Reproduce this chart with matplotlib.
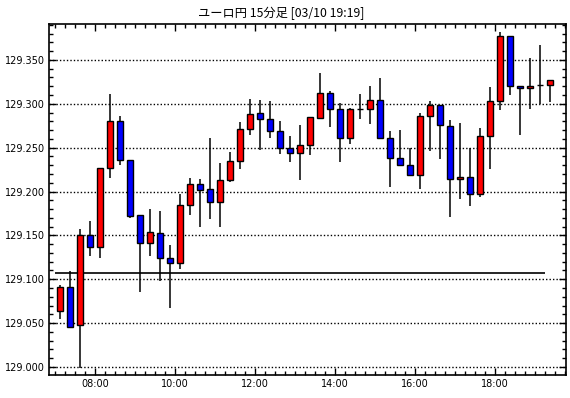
import matplotlib
matplotlib.use('Agg')
import numpy as np
import matplotlib.pyplot as plt
from matplotlib.ticker import MultipleLocator, FixedLocator

plt.rcParams['font.family'] = ['Noto Sans CJK JP', 'DejaVu Sans']

title = 'ユーロ円 15分足 [03/10 19:19]'

# 15分足 07:00 ~ 19:15
opens = [129.0636, 129.0917, 129.0477, 129.1508, 129.1364, 129.2273, 129.2803, 129.2364, 129.1727, 129.1409,
         129.1523, 129.1239, 129.1189, 129.1852, 129.2080, 129.2023, 129.1875, 129.2136, 129.2352, 129.2716,
         129.2898, 129.2830, 129.2693, 129.2500, 129.2443, 129.2534, 129.2837, 129.3125, 129.2943, 129.2614,
         129.2943, 129.2943, 129.3045, 129.2614, 129.2386, 129.2307, 129.2189, 129.2864, 129.2989, 129.2750,
         129.2148, 129.2170, 129.1977, 129.2636, 129.3034, 129.3773, 129.3205, 129.3182, 129.3212, 129.3212]
highs = [129.0932, 129.1091, 129.1568, 129.1663, 129.2273, 129.3106, 129.2856, 129.2364, 129.1727, 129.1799,
         129.1773, 129.1390, 129.1970, 129.2152, 129.2140, 129.2606, 129.2322, 129.2447, 129.2788, 129.3049,
         129.3038, 129.3027, 129.2799, 129.2629, 129.2754, 129.2852, 129.3356, 129.3148, 129.3008, 129.2955,
         129.3106, 129.3197, 129.3288, 129.2686, 129.2697, 129.2500, 129.2898, 129.3027, 129.2989, 129.2818,
         129.2777, 129.2500, 129.2727, 129.3186, 129.3822, 129.3773, 129.3205, 129.3519, 129.3674, 129.3273]
lows = [129.0542, 129.0443, 128.9989, 129.1261, 129.1239, 129.2159, 129.2303, 129.1697, 129.0860, 129.1269,
        129.0985, 129.0678, 129.1117, 129.1735, 129.1598, 129.1689, 129.1598, 129.2110, 129.2258, 129.2644,
        129.2473, 129.2610, 129.2432, 129.2341, 129.2136, 129.2417, 129.2826, 129.2735, 129.2341, 129.2545,
        129.2822, 129.2765, 129.2610, 129.2053, 129.2292, 129.2178, 129.2030, 129.2462, 129.2371, 129.1712,
        129.1917, 129.1837, 129.1939, 129.2258, 129.2928, 129.3098, 129.2644, 129.2936, 129.3000, 129.3015]
closes = [129.0917, 129.0455, 129.1508, 129.1364, 129.2273, 129.2803, 129.2364, 129.1723, 129.1409, 129.1534,
          129.1239, 129.1189, 129.1852, 129.2080, 129.2019, 129.1875, 129.2136, 129.2352, 129.2716, 129.2886,
          129.2830, 129.2693, 129.2500, 129.2443, 129.2534, 129.2852, 129.3125, 129.2943, 129.2614, 129.2943,
          129.2943, 129.3045, 129.2610, 129.2383, 129.2303, 129.2189, 129.2864, 129.2989, 129.2761, 129.2148,
          129.2170, 129.1977, 129.2636, 129.3034, 129.3773, 129.3201, 129.3182, 129.3205, 129.3212, 129.3273]

ref_line = 129.1068
xlabels = ['08:00', '10:00', '12:00', '14:00', '16:00', '18:00']

n = len(opens)
# 足の中心 (時間, 07:00 始まり)
x = 7.0 + 0.25 * np.arange(n) + 0.125
o = np.array(opens)
c = np.array(closes)

fig = plt.figure(figsize=(5.7, 3.98), dpi=100)
ax = fig.add_axes([49 / 570, 23 / 398, 517 / 570, 351 / 398])

# 目盛り線
for v in np.arange(129.0, 129.36, 0.05):
    ax.axhline(v, color='black', linestyle=(0, (1, 1.5)), linewidth=1.0, zorder=1)

ax.hlines(ref_line, 7.0, 19.25, color='black', linewidth=1.2, zorder=2)

ax.vlines(x, lows, highs, color='black', linewidth=1.1, zorder=3)
colors = ['red' if cc > oo else 'blue' for oo, cc in zip(o, c)]
ax.bar(x, c - o, bottom=o, width=0.17, color=colors, edgecolor='black', linewidth=1.0, zorder=4)

ax.set_xlim(6.85, 19.775)
ax.set_ylim(128.9909, 129.3909)

ax.xaxis.set_major_locator(FixedLocator([8, 10, 12, 14, 16, 18]))
ax.set_xticklabels(xlabels)
ax.xaxis.set_minor_locator(MultipleLocator(0.25))
ax.yaxis.set_major_locator(FixedLocator(np.arange(129.0, 129.36, 0.05)))
ax.set_yticklabels(['%.3f' % v for v in np.arange(129.0, 129.36, 0.05)])
ax.yaxis.set_minor_locator(MultipleLocator(0.01))

ax.tick_params(which='both', direction='in', top=True, right=True, labelsize=7, color='black', width=1)
ax.tick_params(which='major', length=5, pad=3)
ax.tick_params(which='minor', length=3)
for lab in ax.get_xticklabels() + ax.get_yticklabels():
    lab.set_family('DejaVu Sans')

for s in ax.spines.values():
    s.set_linewidth(1.2)
    s.set_color('black')

fig.text(281 / 570, 1 - 13 / 398, title, ha='center', va='center', fontsize=8.8)

fig.savefig('out.png', dpi=100)
